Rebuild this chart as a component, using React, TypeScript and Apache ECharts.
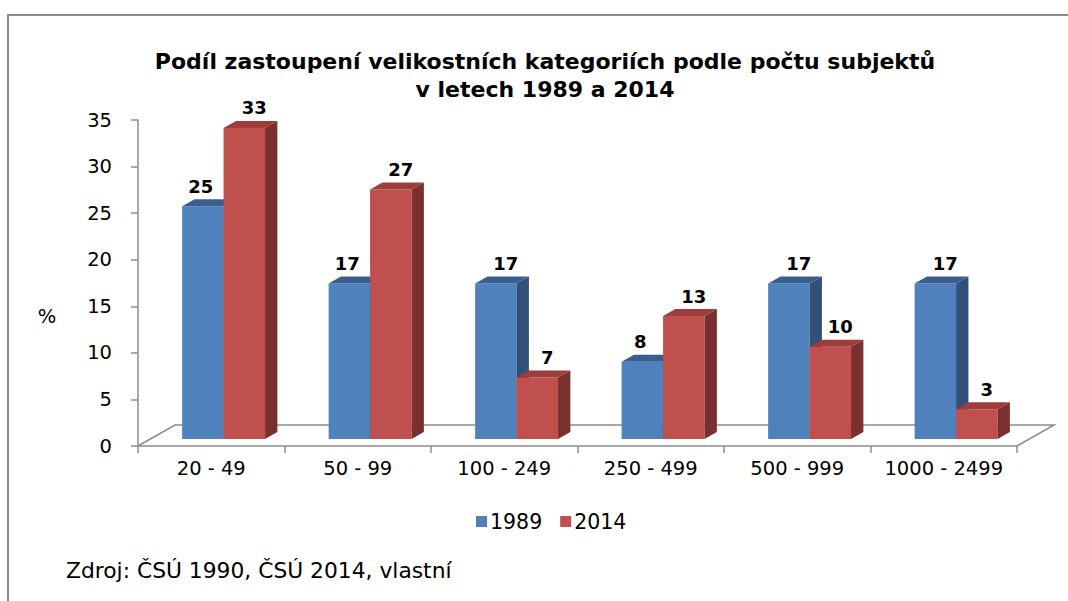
import React, { useEffect, useRef } from "react";
import * as echarts from "echarts";

const categories = ["20 - 49", "50 - 99", "100 - 249", "250 - 499", "500 - 999", "1000 - 2499"];
const seriesNames = ["1989", "2014"];
const values1989 = [25.0, 16.7, 16.7, 8.3, 16.7, 16.7];
const values2014 = [33.4, 26.8, 6.6, 13.2, 9.9, 3.2];
const titleLines = ["Podíl zastoupení velikostních kategoriích podle počtu subjektů", "v letech 1989 a 2014"];
const sourceText = "Zdroj: ČSÚ 1990, ČSÚ 2014, vlastní";
const yTitle = "%";

const FRONT = ["#4F81BD", "#C0504D"];
const TOP = ["#3A5F8F", "#9E3D3B"];
const SIDE = ["#31507A", "#7A302E"];
const AXIS_GRAY = "#8c8c8c";
const FLOOR_DEPTH = [37, -21];
const FONT = "DejaVu Sans";

function makeBarRenderer(sIdx: number) {
  return (params: any, api: any) => {
    const cat = api.value(0);
    const val = api.value(1);
    const base = api.coord([cat, 0]);
    const top = api.coord([cat, val]);
    const catW = api.size([1, 0])[0];
    const bw = catW * 0.283;
    const ox = FLOOR_DEPTH[0] / 3;
    const oy = FLOOR_DEPTH[1] / 3;
    const dx = FLOOR_DEPTH[0] / 3;
    const dy = FLOOR_DEPTH[1] / 3;
    const x0 = base[0] + (sIdx === 0 ? -bw : 0) + ox;
    const x1 = x0 + bw;
    const yb = base[1] + oy;
    const yt = top[1] + oy;
    const idx = params.dataIndex;
    let labelShift = 10;
    if (sIdx === 0 && values2014[idx] > values1989[idx]) labelShift = -2;
    return {
      type: "group",
      children: [
        {
          type: "polygon",
          shape: { points: [[x0, yb], [x1, yb], [x1, yt], [x0, yt]] },
          style: { fill: FRONT[sIdx] },
        },
        {
          type: "polygon",
          shape: { points: [[x0, yt], [x1, yt], [x1 + dx, yt + dy], [x0 + dx, yt + dy]] },
          style: { fill: TOP[sIdx] },
        },
        {
          type: "polygon",
          shape: { points: [[x1, yb], [x1 + dx, yb + dy], [x1 + dx, yt + dy], [x1, yt]] },
          style: { fill: SIDE[sIdx] },
        },
        {
          type: "text",
          style: {
            text: String(Math.round(val)),
            x: (x0 + x1) / 2 + labelShift,
            y: yt - 20,
            textAlign: "center",
            textVerticalAlign: "middle",
            fontFamily: FONT,
            fontWeight: "bold",
            fontSize: 18,
            fill: "#000",
          },
        },
      ],
    };
  };
}

function renderFloor(params: any, api: any) {
  const cs = params.coordSys;
  const lx = cs.x;
  const rx = cs.x + cs.width;
  const by = cs.y + cs.height;
  const dx = FLOOR_DEPTH[0];
  const dy = FLOOR_DEPTH[1];
  return {
    type: "polyline",
    shape: {
      points: [
        [lx, by],
        [lx + dx, by + dy],
        [rx + dx, by + dy],
        [rx, by],
      ],
    },
    style: { stroke: AXIS_GRAY, lineWidth: 1.5, fill: "none" },
  };
}

export default function App() {
  const ref = useRef<HTMLDivElement>(null);
  useEffect(() => {
    if (!ref.current) return;
    const chart = echarts.init(ref.current, undefined, { renderer: "svg" });
    chart.setOption({
      animation: false,
      backgroundColor: "#ffffff",
      grid: { left: 138, top: 120, width: 879, height: 326, containLabel: false },
      xAxis: {
        type: "category",
        data: categories,
        axisLine: { show: true, lineStyle: { color: AXIS_GRAY, width: 1.5 } },
        axisTick: { show: true, length: 7, lineStyle: { color: AXIS_GRAY, width: 1.5 } },
        axisLabel: { color: "#000", fontFamily: FONT, fontSize: 19.5, margin: 12, interval: 0 },
        splitLine: { show: false },
      },
      yAxis: {
        type: "value",
        min: 0,
        max: 35,
        interval: 5,
        axisLine: { show: true, lineStyle: { color: AXIS_GRAY, width: 1.5 } },
        axisTick: { show: true, length: 7, lineStyle: { color: AXIS_GRAY, width: 1.5 } },
        axisLabel: { color: "#000", fontFamily: FONT, fontSize: 19.5, margin: 26 },
        splitLine: { show: false },
      },
      legend: {
        data: seriesNames,
        left: 471,
        top: 506,
        itemWidth: 11,
        itemHeight: 11,
        itemGap: 18,
        icon: "rect",
        textStyle: { color: "#000", fontFamily: FONT, fontSize: 20.5, padding: [0, 0, 0, -2] },
      },
      series: [
        {
          type: "custom",
          name: "floor",
          data: [[0, 0]],
          renderItem: renderFloor,
          silent: true,
          z: 1,
        },
        {
          type: "custom",
          name: seriesNames[0],
          data: values1989.map((v, i) => [i, v]),
          renderItem: makeBarRenderer(0),
          itemStyle: { color: FRONT[0] },
          z: 2,
        },
        {
          type: "custom",
          name: seriesNames[1],
          data: values2014.map((v, i) => [i, v]),
          renderItem: makeBarRenderer(1),
          itemStyle: { color: FRONT[1] },
          z: 3,
        },
      ],
      graphic: [
        {
          type: "rect",
          shape: { x: 8, y: 15, width: 1200, height: 800 },
          style: { fill: "none", stroke: AXIS_GRAY, lineWidth: 2 },
          silent: true,
        },
        {
          type: "text",
          x: 545,
          y: 61,
          style: {
            text: titleLines[0],
            textAlign: "center",
            textVerticalAlign: "middle",
            fontFamily: FONT,
            fontWeight: "bold",
            fontSize: 22,
            fill: "#000",
          },
        },
        {
          type: "text",
          x: 545,
          y: 89,
          style: {
            text: titleLines[1],
            textAlign: "center",
            textVerticalAlign: "middle",
            fontFamily: FONT,
            fontWeight: "bold",
            fontSize: 22,
            fill: "#000",
          },
        },
        {
          type: "text",
          x: 47,
          y: 316,
          style: {
            text: yTitle,
            textAlign: "center",
            textVerticalAlign: "middle",
            fontFamily: FONT,
            fontSize: 19.5,
            fill: "#000",
          },
        },
        {
          type: "text",
          x: 66,
          y: 570,
          style: {
            text: sourceText,
            textAlign: "left",
            textVerticalAlign: "middle",
            fontFamily: FONT,
            fontSize: 21.8,
            fill: "#000",
          },
        },
      ],
    });
    return () => chart.dispose();
  }, []);
  return (
    <div
      ref={ref}
      style={{ position: "fixed", left: 0, top: 0, width: 1068, height: 601, background: "#fff" }}
    />
  );
}
